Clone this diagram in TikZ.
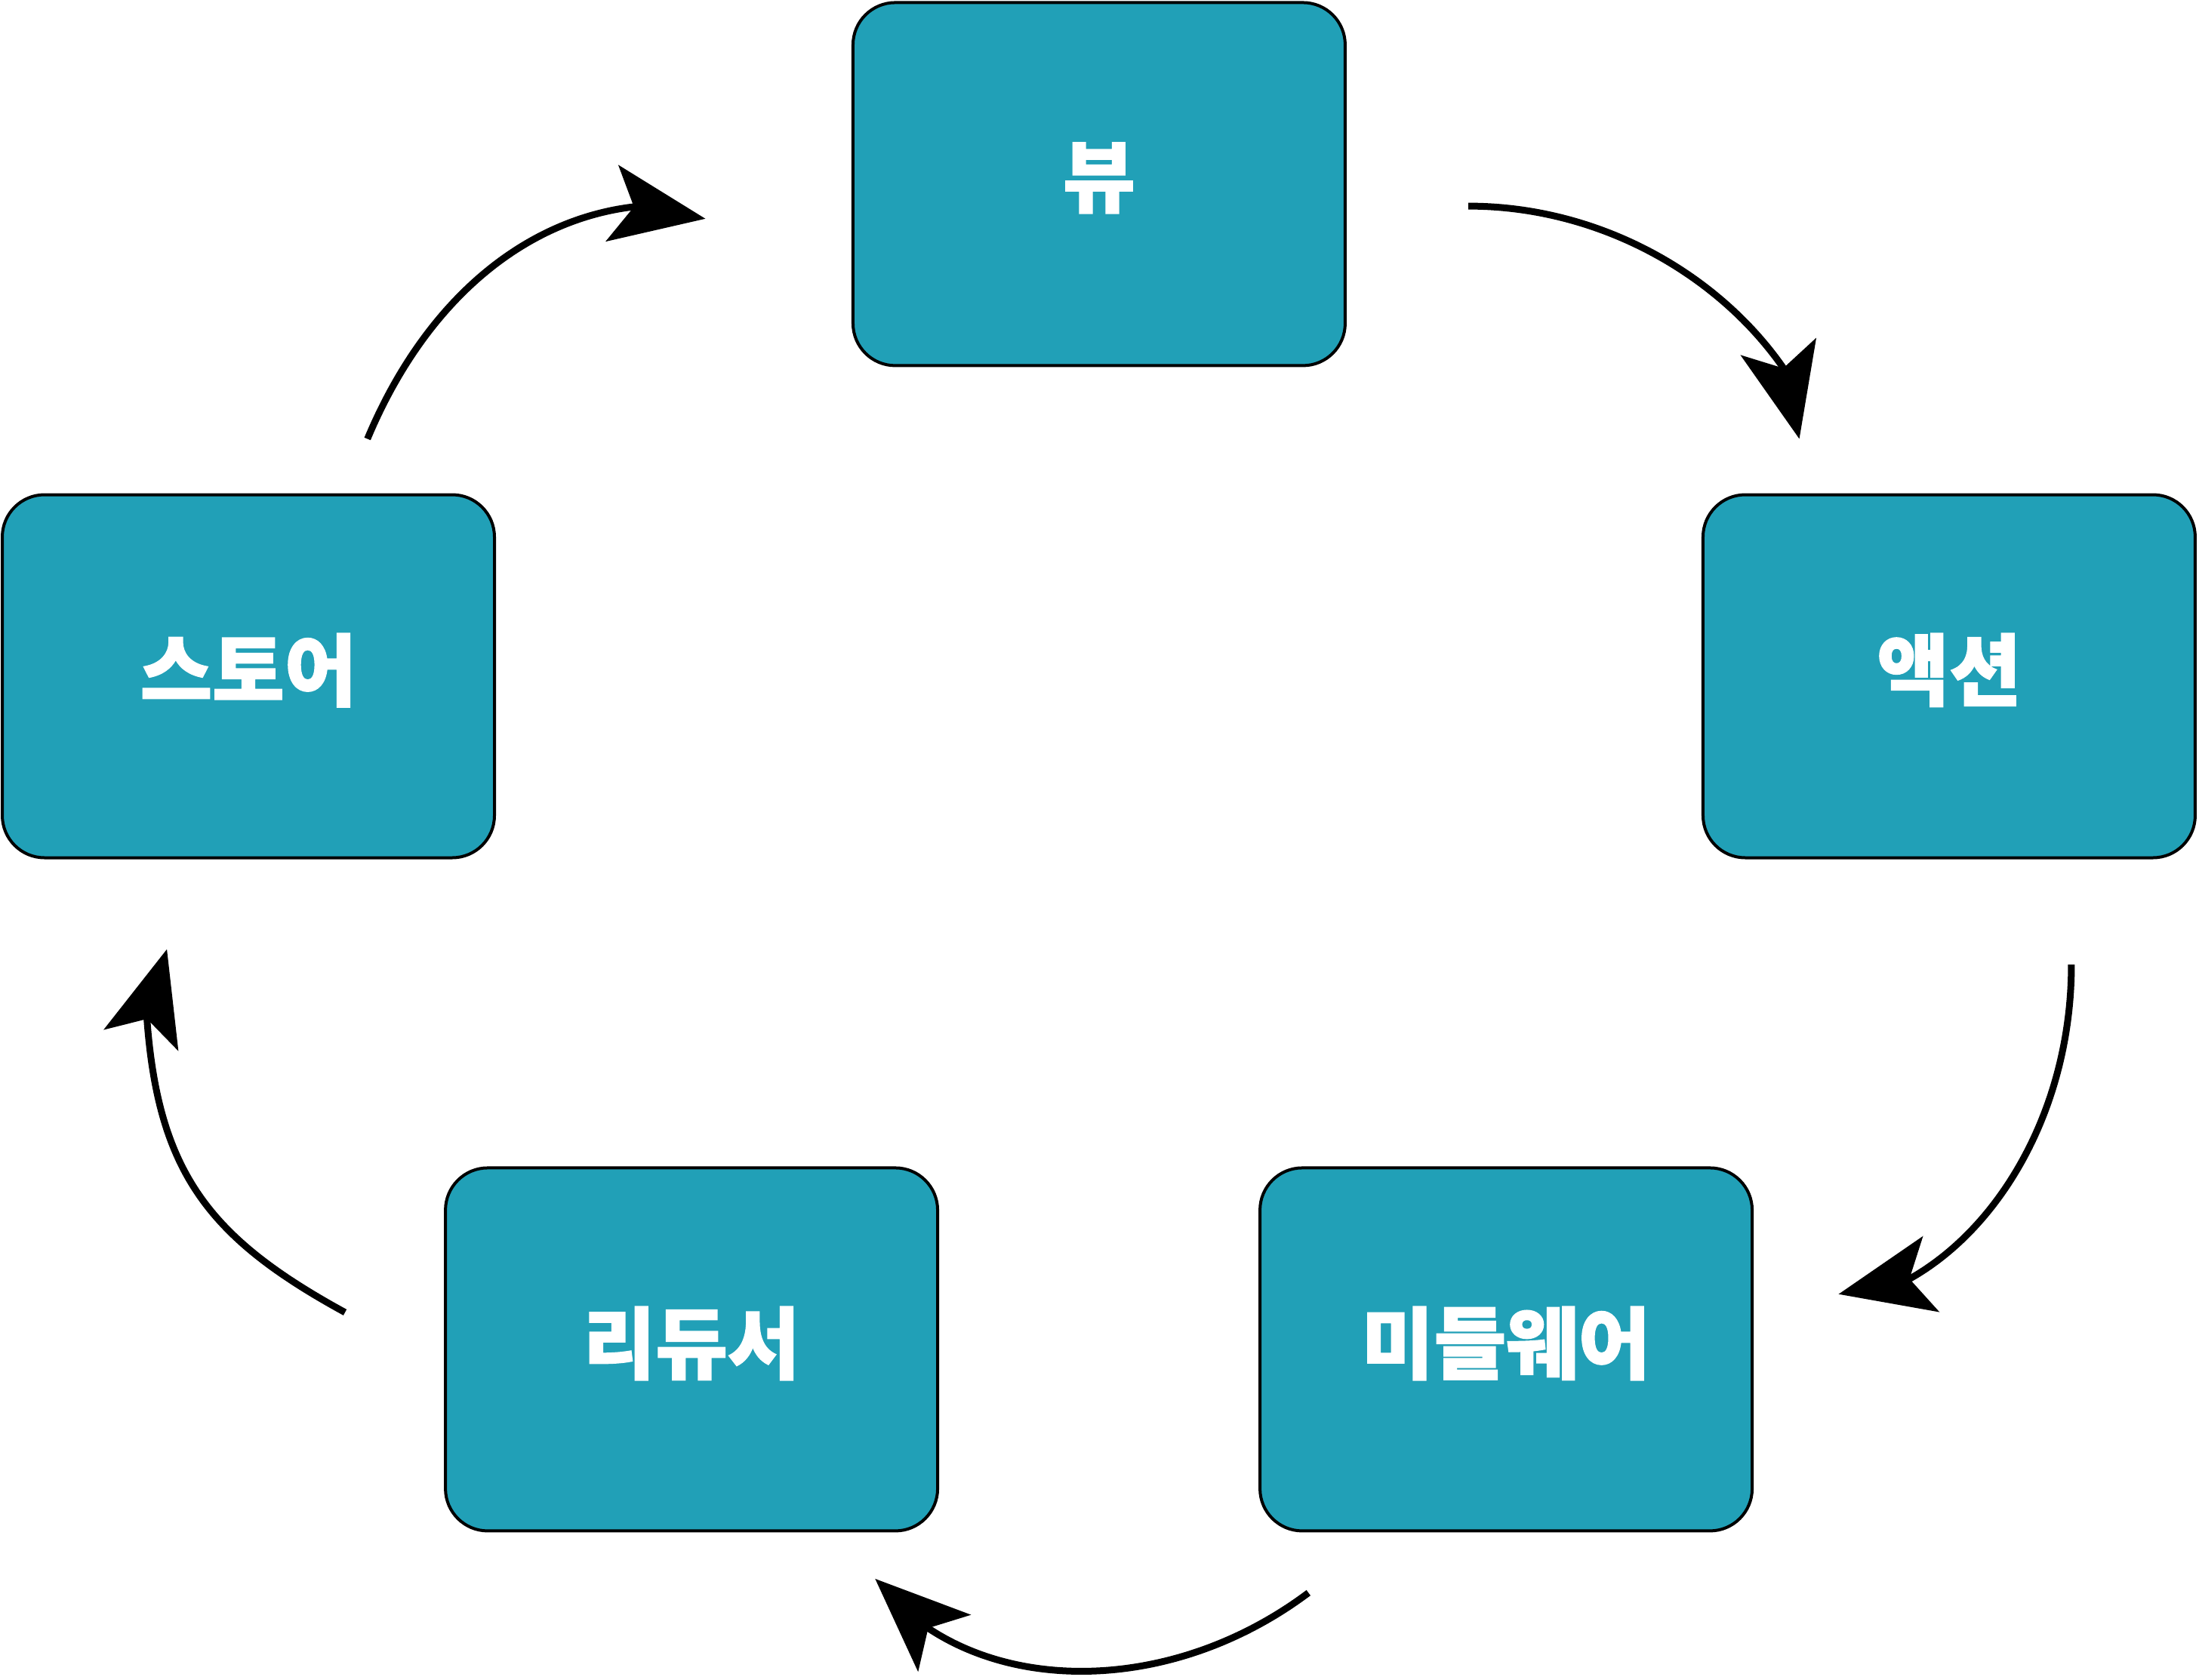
\documentclass[tikz,border=0pt]{standalone}
\usepackage{fontspec}
\newfontfamily\krfont{Noto Sans CJK KR}[BoldFeatures={FakeBold=1.4}]
\usetikzlibrary{arrows.meta}
\definecolor{boxteal}{RGB}{33,160,183}
\begin{document}
\begin{tikzpicture}[x=1.8578pt,y=-1.8578pt,
  stage/.style={draw=black, line width=4pt, fill=boxteal, rounded corners=56pt,
    minimum width=652pt, minimum height=481pt, inner sep=0pt, text=white,
    font=\krfont\bfseries\fontsize{104}{124}\selectfont},
  flow/.style={line width=9pt, -{Stealth[length=125pt,width=102pt,inset=29pt]}}]
\useasboundingbox (0,0) rectangle (1568,1198.2);
\node[stage] (view)   at (783.7,131.3)  {\raisebox{26pt}{뷰}};
\node[stage] (action) at (1389.8,482.3) {\raisebox{26pt}{액션}};
\node[stage] (mw)     at (1073.9,962.4) {\raisebox{26pt}{미들웨어}};
\node[stage] (red)    at (493.1,962.4)  {\raisebox{26pt}{리듀서}};
\node[stage] (store)  at (177.1,482.3)  {\raisebox{26pt}{스토어}};
% connector ends
\coordinate (view-out)    at (1047,147);
\coordinate (action-near) at (1271.5,262.3);
\coordinate (action-in)   at (1283,313);
\coordinate (action-out)  at (1477,688);
\coordinate (mw-near)     at (1361.8,912);
\coordinate (mw-in)       at (1311,923);
\coordinate (mw-out)      at (933,1136);
\coordinate (red-near)    at (662.1,1161.4);
\coordinate (red-in)      at (624,1126);
\coordinate (red-out)     at (246,936);
\coordinate (store-near)  at (104.8,727);
\coordinate (store-in)    at (119,677);
\coordinate (store-out)   at (262,313);
\coordinate (view-near)   at (451.7,147.5);
\coordinate (view-in)     at (503,156);
\draw[flow] (view-out) .. controls (1139.8,147) and (1224.6,194.9) .. (action-near) -- (action-in);
\draw[flow] (action-out) .. controls (1477,788) and (1428.1,874.6) .. (mw-near) -- (mw-in);
\draw[flow] (mw-out) .. controls (845.3,1201.8) and (733.5,1208.7) .. (red-near) -- (red-in);
\draw[flow] (red-out) .. controls (149.5,883.2) and (113,836.7) .. (store-near) -- (store-in);
\draw[flow] (store-out) .. controls (303,215) and (373,157) .. (view-near) -- (view-in);
\end{tikzpicture}
\end{document}
